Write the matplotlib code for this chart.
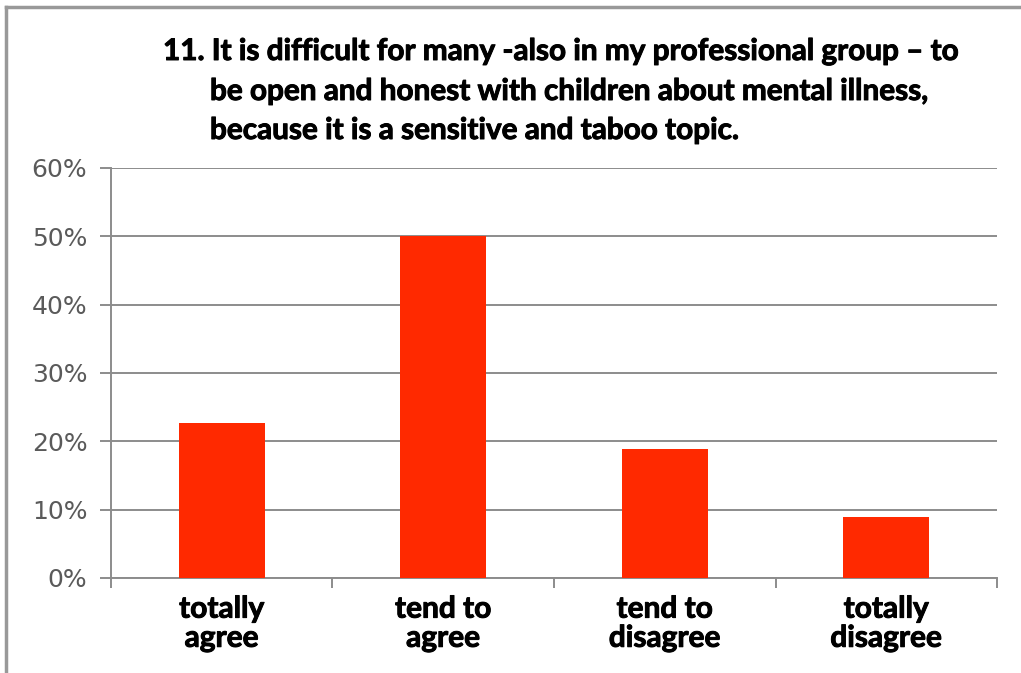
import matplotlib.pyplot as plt
import matplotlib.patheffects as pe
from matplotlib.lines import Line2D
from matplotlib.ticker import MultipleLocator, PercentFormatter

categories = ['totally\nagree', 'tend to\nagree', 'tend to\ndisagree', 'totally\ndisagree']
shares = [22.7, 50.0, 18.9, 8.9]
title_lines = [
    '11. It is difficult for many -also in my professional group \u2013 to',
    'be open and honest with children about mental illness,',
    'because it is a sensitive and taboo topic.',
]

GRAY = '#8c8c8c'
# slight stroke to get closer to the heavy bold of the original
HEAVY = [pe.withStroke(linewidth=0.7, foreground='black')]
TITLE_FONT = dict(fontfamily='Lato', fontweight='bold', fontsize=21.4,
                  path_effects=HEAVY)

fig = plt.figure(figsize=(10.21, 6.73), dpi=100)
ax = fig.add_axes([0.1087, 0.1412, 0.8678, 0.6092])

x = list(range(len(categories)))
ax.bar(x, shares, width=0.39, color='#ff2900', zorder=3)
ax.set_xlim(-0.5, len(categories) - 0.5)
ax.set_ylim(0, 60)

ax.yaxis.set_major_locator(MultipleLocator(10))
ax.yaxis.set_major_formatter(PercentFormatter(decimals=0))
ax.grid(axis='y', color=GRAY, lw=1.4, zorder=0)
ax.set_axisbelow(True)

for side in ['top', 'right']:
    ax.spines[side].set_visible(False)
for side in ['left', 'bottom']:
    ax.spines[side].set_color(GRAY)
    ax.spines[side].set_linewidth(1.4)

ax.tick_params(axis='y', length=8, width=1.4, color=GRAY, labelcolor='#5a5a5a',
               labelsize=18, pad=9)
ax.tick_params(axis='x', which='major', length=0, pad=12)
ax.set_xticks(x)
ax.set_xticklabels(categories, fontfamily='Lato', fontweight='bold',
                   fontsize=21.5, linespacing=1.05, path_effects=HEAVY)
ax.set_xticks([i - 0.5 for i in range(len(categories) + 1)], minor=True)
ax.tick_params(axis='x', which='minor', length=7, width=1.4, color=GRAY)
for lab in ax.get_yticklabels():
    lab.set_fontfamily('DejaVu Sans')

# title with hanging indent
fig.text(163 / 1021, 1 - 60 / 673, title_lines[0], ha='left', va='baseline',
         **TITLE_FONT)
fig.text(210 / 1021, 1 - 100 / 673, title_lines[1], ha='left', va='baseline',
         **TITLE_FONT)
fig.text(210 / 1021, 1 - 139 / 673, title_lines[2], ha='left', va='baseline',
         **TITLE_FONT)

# frame of the screenshot
fig.add_artist(Line2D([6 / 1021, 6 / 1021], [0, 1 - 7 / 673],
                      color='#999999', lw=2.5))
fig.add_artist(Line2D([6 / 1021, 1], [1 - 7 / 673, 1 - 7 / 673],
                      color='#999999', lw=2.5))

fig.savefig('out.png', dpi=100)
